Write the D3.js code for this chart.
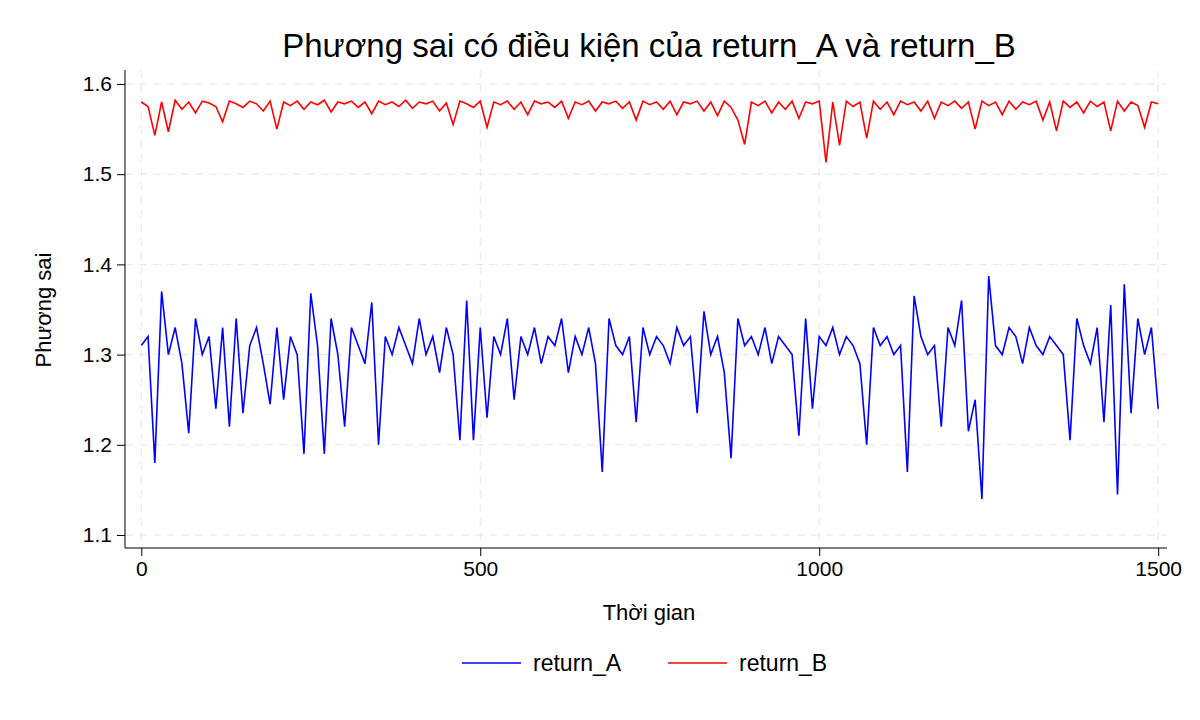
<!DOCTYPE html>
<html><head><meta charset="utf-8">
<script src="https://cdn.jsdelivr.net/npm/d3@7"></script>
<style>body{margin:0;background:#fff}text{font-family:Arial,"Liberation Sans",sans-serif}</style>
</head><body><svg id="c" width="1200" height="720"></svg>
<script>
const seriesNames=["return_A","return_B"];
const colors=["#0000ff","#ff0000"];
const xTicks=[0,500,1000,1500];
const yTicks=[1.1,1.2,1.3,1.4,1.5,1.6];
const timeA=d3.range(0,1501,10);
const valuesA=[1.31,1.32,1.18,1.37,1.30,1.33,1.29,1.213,1.34,1.30,
1.32,1.24,1.33,1.22,1.34,1.235,1.31,1.33,1.29,1.245,
1.33,1.25,1.32,1.30,1.19,1.368,1.31,1.19,1.34,1.30,
1.22,1.33,1.31,1.29,1.358,1.20,1.32,1.30,1.33,1.31,
1.29,1.34,1.30,1.32,1.28,1.33,1.30,1.205,1.36,1.205,
1.33,1.23,1.32,1.30,1.34,1.25,1.32,1.30,1.33,1.29,
1.32,1.31,1.34,1.28,1.32,1.30,1.33,1.29,1.17,1.34,
1.31,1.30,1.32,1.225,1.33,1.30,1.32,1.31,1.29,1.33,
1.31,1.32,1.235,1.348,1.30,1.32,1.28,1.185,1.34,1.31,
1.32,1.30,1.33,1.29,1.32,1.31,1.30,1.21,1.34,1.24,
1.32,1.31,1.33,1.30,1.32,1.31,1.29,1.20,1.33,1.31,
1.32,1.30,1.31,1.17,1.365,1.32,1.30,1.31,1.22,1.33,
1.31,1.36,1.215,1.25,1.14,1.387,1.31,1.30,1.33,1.32,
1.29,1.33,1.31,1.30,1.32,1.31,1.30,1.205,1.34,1.31,
1.29,1.33,1.225,1.355,1.145,1.378,1.235,1.34,1.30,1.33,1.24];
const timeB=d3.range(0,1501,10);
const valuesB=[1.58,1.575,1.543,1.58,1.547,1.582,1.572,1.58,1.568,1.581,
1.579,1.575,1.558,1.581,1.578,1.574,1.581,1.578,1.57,1.581,
1.55,1.58,1.576,1.581,1.572,1.58,1.577,1.582,1.569,1.58,
1.578,1.581,1.574,1.58,1.567,1.581,1.577,1.58,1.575,1.582,
1.573,1.58,1.578,1.581,1.57,1.579,1.555,1.581,1.578,1.574,
1.581,1.552,1.58,1.577,1.581,1.572,1.58,1.566,1.581,1.578,
1.58,1.574,1.581,1.562,1.58,1.577,1.581,1.57,1.58,1.578,
1.581,1.573,1.58,1.56,1.581,1.577,1.58,1.572,1.581,1.566,
1.58,1.578,1.581,1.57,1.58,1.565,1.581,1.574,1.56,1.533,
1.58,1.576,1.581,1.568,1.58,1.572,1.581,1.562,1.58,1.578,
1.581,1.513,1.58,1.532,1.581,1.575,1.58,1.54,1.581,1.572,
1.58,1.566,1.581,1.577,1.58,1.57,1.581,1.562,1.58,1.576,
1.581,1.573,1.58,1.55,1.581,1.576,1.58,1.566,1.581,1.572,
1.58,1.577,1.581,1.56,1.58,1.548,1.581,1.574,1.58,1.568,
1.581,1.575,1.58,1.548,1.581,1.57,1.58,1.576,1.552,1.58,1.578];

const svg=d3.select("#c");
const L=125,R=1167,T=70,B=548;
const x=d3.scaleLinear().domain([-24,1513]).range([L,R]);
const y=d3.scaleLinear().domain([1.0856,1.6155]).range([B,T]);
const g=svg.append("g");
g.selectAll(".gx").data(xTicks).join("line").attr("x1",d=>x(d)).attr("x2",d=>x(d)).attr("y1",T).attr("y2",B).attr("stroke","#e6e6e6").attr("stroke-dasharray","8,6");
g.selectAll(".gy").data(yTicks).join("line").attr("y1",d=>y(d)).attr("y2",d=>y(d)).attr("x1",L).attr("x2",R).attr("stroke","#e6e6e6").attr("stroke-dasharray","8,6");
const ax=svg.append("g").attr("transform",`translate(0,${B})`).call(d3.axisBottom(x).tickValues(xTicks).tickFormat(d3.format("d")).tickSize(8).tickSizeOuter(0).tickPadding(5));
const ay=svg.append("g").attr("transform",`translate(${L},0)`).call(d3.axisLeft(y).tickValues(yTicks).tickFormat(d3.format(".1f")).tickSize(8).tickSizeOuter(0).tickPadding(5));
[ax,ay].forEach(a=>{a.selectAll("text").attr("font-size",21).attr("fill","#000");a.select(".domain").attr("stroke","#000");});
ax.select(".domain").attr("d",`M${L},0H${R}`);
ay.select(".domain").attr("d",`M0,${T}V${B}`);
const line=d3.line().x(d=>x(d[0])).y(d=>y(d[1]));
const data=[d3.zip(timeA,valuesA),d3.zip(timeB,valuesB)];
data.forEach((d,i)=>svg.append("path").attr("d",line(d)).attr("fill","none").attr("stroke",colors[i]).attr("stroke-width",1.6));
svg.append("text").attr("x",649).attr("y",57).attr("text-anchor","middle").attr("font-size",33).text("Phương sai có điều kiện của return_A và return_B");
svg.append("text").attr("x",649).attr("y",620).attr("text-anchor","middle").attr("font-size",22).text("Thời gian");
svg.append("text").attr("transform","translate(51,310) rotate(-90)").attr("text-anchor","middle").attr("font-size",22).text("Phương sai");
const lx=[462,668];
seriesNames.forEach((n,i)=>{
 svg.append("line").attr("x1",lx[i]).attr("x2",lx[i]+59).attr("y1",663).attr("y2",663).attr("stroke",colors[i]).attr("stroke-width",1.6);
 svg.append("text").attr("x",lx[i]+71).attr("y",671).attr("font-size",23).text(n);
});
</script></body></html>
